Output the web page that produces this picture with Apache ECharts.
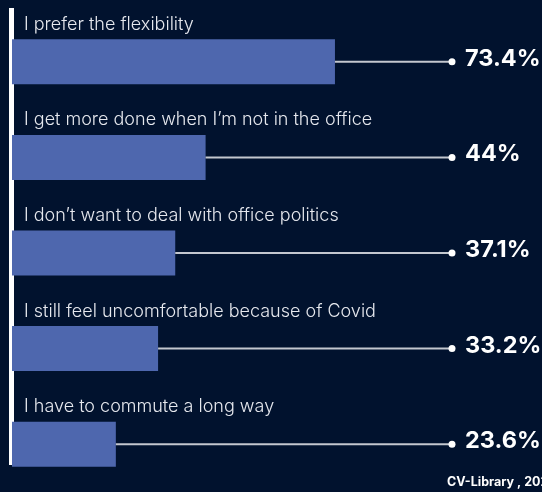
<!DOCTYPE html>
<html>
	<head>
		<meta charset="UTF-8">
		<title>Remote work reasons</title>
		<script type="text/javascript" src="https://cdn.jsdelivr.net/npm/echarts@6/dist/echarts.min.js"></script>
		<style>
			html, body { margin: 0; padding: 0; background: #01122e; }
			#main { width: 542px; height: 492px; }
		</style>
	</head>
	<body>
		<div id="main"></div>
		<script type="text/javascript">
			var reasons = [
				'I prefer the flexibility',
				'I get more done when I\u2019m not in the office',
				'I don\u2019t want to deal with office politics',
				'I still feel uncomfortable because of Covid',
				'I have to commute a long way'
			];
			var shares = [73.4, 44, 37.1, 33.2, 23.6];
			var valueLabels = ['73.4%', '44%', '37.1%', '33.2%', '23.6%'];
			var source = 'CV-Library , 2022';

			var chart = echarts.init(document.getElementById('main'));

			// connector line + dot + percentage, from the bar end to the 100 mark
			function renderConnector(params, api) {
				var i = api.value(1);
				var start = api.coord([api.value(0), i]);
				var end = api.coord([100, i]);
				return {
					type: 'group',
					children: [
						{
							type: 'line',
							shape: { x1: start[0], y1: start[1], x2: end[0], y2: end[1] },
							style: { stroke: '#c3c7cf', lineWidth: 2 }
						},
						{
							type: 'circle',
							shape: { cx: end[0], cy: end[1], r: 3.5 },
							style: { fill: '#ffffff' }
						},
						{
							type: 'text',
							x: end[0] + 13,
							y: end[1] - 3,
							style: {
								text: valueLabels[i],
								fill: '#ffffff',
								font: 'bold 23.5px Inter',
								textAlign: 'left',
								textVerticalAlign: 'middle'
							}
						}
					]
				};
			}

			chart.setOption({
				backgroundColor: '#01122e',
				animation: false,
				grid: { left: 12, top: 14, width: 440, height: 478 },
				xAxis: {
					type: 'value',
					min: 0,
					max: 100,
					show: false
				},
				yAxis: {
					type: 'category',
					data: reasons,
					inverse: true,
					axisLine: { show: false },
					axisTick: { show: false },
					axisLabel: { show: false }
				},
				graphic: [
					{
						type: 'rect',
						left: 9,
						top: 8,
						shape: { width: 5, height: 457 },
						style: { fill: '#ffffff' }
					},
					{
						type: 'text',
						left: 447,
						top: 476,
						style: {
							text: source,
							fill: '#ffffff',
							font: 'bold 12.5px Inter'
						}
					}
				],
				series: [
					{
						type: 'bar',
						data: shares,
						barWidth: 45,
						itemStyle: { color: '#4e67ae' },
						label: {
							show: true,
							position: [12, -6],
							align: 'left',
							verticalAlign: 'bottom',
							formatter: function (p) { return p.name; },
							color: '#e6e8ee',
							fontFamily: 'Inter',
							fontWeight: 300,
							fontSize: 18
						}
					},
					{
						type: 'custom',
						renderItem: renderConnector,
						data: shares.map(function (v, i) { return [v, i]; }),
						encode: { x: 0, y: 1 },
						z: 3
					}
				]
			});
		</script>
	</body>
</html>
